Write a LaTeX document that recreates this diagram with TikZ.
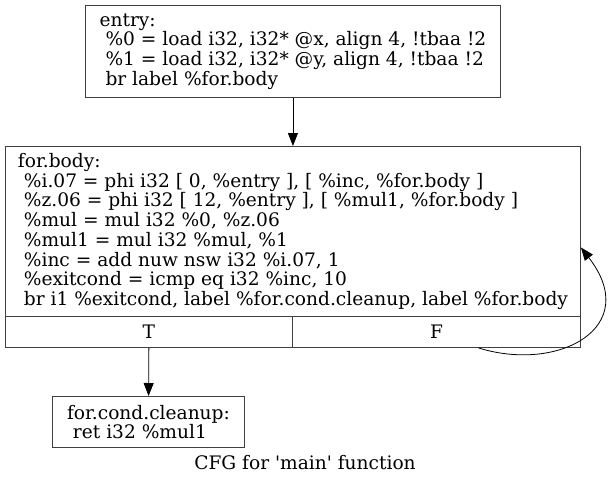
\documentclass[tikz,border=0pt]{standalone}
\usepackage{fontspec}
\setmainfont{DejaVu Serif}
\usetikzlibrary{arrows.meta,calc}

\newcommand{\ind}{\hspace*{0.32em}}

\begin{document}
\begin{tikzpicture}[x=1pt,y=-1pt,
  blk/.style={draw=black!75,line width=0.9pt,inner sep=0pt,align=left,anchor=north west,
    font=\fontsize{18.6}{19.7}\selectfont},
  cell/.style={draw=black!75,line width=0.9pt,inner sep=0pt,anchor=north west,
    font=\fontsize{18.6}{19.7}\selectfont},
  edge/.style={-{Triangle[length=13pt,width=10pt]},line width=0.8pt}]
\useasboundingbox (0,0) rectangle (609,484);

% blocks
\node[blk,minimum width=415pt,minimum height=92pt] (entry) at (85,5)
  {entry:\\
   \ind\%0 = load i32, i32* @x, align 4, !tbaa !2\\
   \ind\%1 = load i32, i32* @y, align 4, !tbaa !2\\
   \ind br label \%for.body};

\node[blk,minimum width=575pt,minimum height=170pt] (body) at (5,146)
  {for.body:\\
   \ind\%i.07 = phi i32 [ 0, \%entry ], [ \%inc, \%for.body ]\\
   \ind\%z.06 = phi i32 [ 12, \%entry ], [ \%mul1, \%for.body ]\\
   \ind\%mul = mul i32 \%0, \%z.06\\
   \ind\%mul1 = mul i32 \%mul, \%1\\
   \ind\%inc = add nuw nsw i32 \%i.07, 1\\
   \ind\%exitcond = icmp eq i32 \%inc, 10\\
   \ind br i1 \%exitcond, label \%for.cond.cleanup, label \%for.body};
\node[cell,minimum width=287pt,minimum height=31pt] (T) at (5,316) {T};
\node[cell,minimum width=288pt,minimum height=31pt] (F) at (292,316) {F};

\node[blk,minimum width=192pt,minimum height=51pt] (clean) at (52,396)
  {for.cond.cleanup:\\
   \ind ret i32 \%mul1};

\node[font=\fontsize{18.6}{19.7}\selectfont] (title) at (305,463)
  {CFG for \textquotesingle main\textquotesingle\ function};

% edges
\draw[edge] (entry) -- (body);
\draw[edge] (T) -- (clean);
\draw[edge] ([xshift=42pt]F.south) .. controls +(80,25) and +(62,80) .. ([yshift=-16pt]body.east);

\end{tikzpicture}
\end{document}
